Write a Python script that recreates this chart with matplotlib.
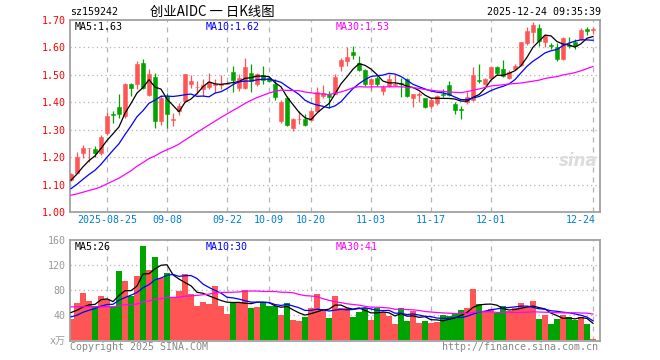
import numpy as np
import matplotlib
matplotlib.use("Agg")
import matplotlib.pyplot as plt
from matplotlib.transforms import blended_transform_factory

# ---------------- data ----------------
opens = [1.116,1.144,1.214,1.232,1.228,1.214,1.288,1.357,1.383,1.349,
         1.465,1.465,1.545,1.428,1.493,1.330,1.422,1.334,1.370,1.404,
         1.465,1.455,1.450,1.455,1.464,1.464,1.465,1.512,1.453,1.453,
         1.508,1.465,1.500,1.487,1.465,1.330,1.416,1.306,1.338,1.340,
         1.337,1.367,1.422,1.431,1.429,1.533,1.549,1.585,1.545,1.517,
         1.465,1.490,1.441,1.459,1.464,1.470,1.484,1.416,1.428,1.414,
         1.386,1.398,1.430,1.462,1.395,1.375,1.402,1.407,1.479,1.465,
         1.487,1.527,1.520,1.490,1.520,1.536,1.615,1.655,1.671,1.618,
         1.607,1.602,1.557,1.608,1.618,1.630,1.667,1.663]
highs = [1.142,1.220,1.245,1.234,1.241,1.281,1.364,1.367,1.429,1.471,
         1.471,1.551,1.557,1.520,1.508,1.428,1.434,1.361,1.398,1.502,
         1.498,1.478,1.484,1.508,1.484,1.500,1.478,1.533,1.502,1.563,
         1.541,1.508,1.533,1.496,1.484,1.410,1.422,1.343,1.367,1.357,
         1.373,1.455,1.463,1.441,1.502,1.563,1.600,1.604,1.569,1.520,
         1.484,1.496,1.463,1.502,1.502,1.490,1.490,1.432,1.438,1.416,
         1.416,1.428,1.447,1.478,1.400,1.388,1.438,1.527,1.541,1.487,
         1.533,1.533,1.553,1.517,1.541,1.618,1.673,1.692,1.686,1.649,
         1.615,1.615,1.637,1.637,1.630,1.671,1.673,1.673]
lows = [1.113,1.142,1.198,1.184,1.202,1.208,1.281,1.324,1.343,1.343,
        1.422,1.450,1.447,1.422,1.308,1.318,1.306,1.312,1.355,1.402,
        1.453,1.430,1.422,1.447,1.435,1.447,1.465,1.438,1.440,1.447,
        1.438,1.459,1.465,1.475,1.410,1.324,1.312,1.297,1.321,1.312,
        1.333,1.365,1.416,1.380,1.429,1.514,1.533,1.557,1.514,1.459,
        1.443,1.459,1.428,1.455,1.459,1.420,1.419,1.382,1.402,1.378,
        1.378,1.390,1.420,1.422,1.357,1.339,1.393,1.405,1.471,1.463,
        1.484,1.498,1.492,1.486,1.517,1.533,1.610,1.615,1.606,1.600,
        1.594,1.551,1.553,1.597,1.594,1.626,1.645,1.649]
closes = [1.140,1.202,1.232,1.233,1.216,1.275,1.349,1.353,1.359,1.465,
          1.453,1.539,1.453,1.502,1.330,1.416,1.357,1.338,1.386,1.502,
          1.477,1.456,1.463,1.474,1.466,1.467,1.472,1.481,1.490,1.527,
          1.478,1.502,1.481,1.478,1.419,1.402,1.318,1.340,1.340,1.318,
          1.367,1.438,1.434,1.419,1.493,1.553,1.566,1.573,1.517,1.465,
          1.484,1.465,1.455,1.484,1.467,1.465,1.422,1.432,1.429,1.382,
          1.410,1.422,1.428,1.428,1.371,1.373,1.420,1.498,1.477,1.484,
          1.527,1.508,1.496,1.512,1.533,1.618,1.661,1.680,1.622,1.643,
          1.605,1.557,1.634,1.605,1.606,1.664,1.659,1.665]
volumes = [33.6,58.7,75.2,62.4,55,71,65.6,53.3,110.4,94.4,
           71,102.4,150.4,112,133.3,99.7,106.7,69.3,78.4,105.6,
           73.6,55,61.3,57.6,87,55,41.6,58.7,58.7,80,
           51.7,53.3,58.7,55,55,40,59.7,32,30.4,37.3,
           51.7,73.6,48,35.7,70.4,51.7,51.7,37.3,45.3,50.7,
           32,51.7,44.3,38.9,25.6,51.2,30.4,47,27.2,30.4,
           27.2,28.8,40,38.9,41,48,51.7,81.6,57.6,47,
           49.6,42.7,54.4,46.4,50.7,59.2,53.3,62.4,33.6,40,
           25.6,33.6,40,37.3,32,37.3,25.6,1.5]
# sessions before the visible window (only used to warm up the moving averages)
pre_closes = [1.06,1.05,1.04,1.05,1.04,1.03,1.04,1.05,1.06,1.05,
              1.04,1.05,1.06,1.05,1.04,1.05,1.06,1.05,1.06,1.06,
              1.04,1.05,1.06,1.06,1.06,1.09,1.10,1.12,1.13]
pre_volumes = [55,70,62,58,75,60,52,66,48,60,72,58,64,55,68,50,62,70,58,57,
               32,28,30,27,33,40,50,45,51]

date_labels = ['2025-08-25','09-08','09-22','10-09','10-20','11-03','11-17','12-01','12-24']
date_index = [6,16,26,33,40,50,60,70,87]
price_ticks = [1.00,1.10,1.20,1.30,1.40,1.50,1.60,1.70]
vol_ticks = [0,40,80,120,160]
vol_tick_labels = ['x万','40','80','120','160']
price_ma_labels = ['MA5:1.63','MA10:1.62','MA30:1.53']
vol_ma_labels = ['MA5:26','MA10:30','MA30:41']
code = 'sz159242'
title = '创业AIDC 一 日K线图'
stamp = '2025-12-24 09:35:39'

# ---------------- helpers ----------------
def ma(pre, vals, n):
    full = np.array(list(pre) + list(vals), dtype=float)
    out = np.convolve(full, np.ones(n) / n, mode='valid')
    return out[-len(vals):]

o = np.array(opens); h = np.array(highs); l = np.array(lows); c = np.array(closes)
v = np.array(volumes)
x = np.arange(len(c))
up = c >= o
RED = '#ff5555'
GREEN = '#00a400'
cols = np.where(up, RED, GREEN)

W, H = 660, 360
fig = plt.figure(figsize=(6.6, 3.6), dpi=100)
fig.patch.set_facecolor('white')

def axrect(left, top, right, bottom):
    return [left / W, 1 - bottom / H, (right - left) / W, (bottom - top) / H]

mono = 'DejaVu Sans Mono'
fs = 7.2
GRID = '#b4b4b4'
SPINE = '#a0a0a0'

axp = fig.add_axes(axrect(70, 20, 600, 212))
axv = fig.add_axes(axrect(70, 240, 600, 341))
xl = (-1 / 6, 529 / 6)

for ax in (axp, axv):
    ax.set_xlim(*xl)
    for s in ax.spines.values():
        s.set_color(SPINE)
        s.set_linewidth(1.3)
    ax.set_xticks([])
    ax.tick_params(axis='y', length=0, pad=3)
    for xi in date_index:
        ax.axvline(xi, color=GRID, lw=0.9, ls=(0, (4, 4)), zorder=0)

# price panel
axp.set_ylim(1.0, 1.70)
axp.set_yticks(price_ticks)
axp.set_yticklabels([f'{t:.2f}' for t in price_ticks], color='red', family=mono, fontsize=fs)
for t in price_ticks[1:-1]:
    axp.axhline(t, color=GRID, lw=0.9, ls=(0, (1, 2.5)), zorder=0)

axp.vlines(x, l, h, colors=cols, lw=0.9, zorder=2)
body_h = np.maximum(np.abs(c - o), 0.0025)
body_b = np.minimum(o, c)
axp.bar(x, body_h, bottom=body_b, width=0.8, color=cols, edgecolor=cols, lw=0.4, zorder=3)

axp.plot(x, ma(pre_closes, closes, 5), color='black', lw=0.9, zorder=4)
axp.plot(x, ma(pre_closes, closes, 10), color='#0000ff', lw=0.9, zorder=4)
axp.plot(x, ma(pre_closes, closes, 30), color='#ff00ff', lw=0.9, zorder=4)

axp.text(578, 199, 'sina', transform=None, fontsize=12, style='italic', weight='bold',
         color='#dcdcdc', ha='center', va='center', family='DejaVu Sans', zorder=1)

# volume panel
axv.set_ylim(-1.6, 160)
axv.set_yticks(vol_ticks)
axv.set_yticklabels(vol_tick_labels, color='#999999', family=[mono, 'Noto Sans CJK SC'], fontsize=fs)
for t in vol_ticks[1:-1]:
    axv.axhline(t, color=GRID, lw=0.9, ls=(0, (1, 2.5)), zorder=0)
axv.bar(x, v, width=0.84, color=cols, zorder=2)
axv.plot(x, ma(pre_volumes, volumes, 5), color='black', lw=0.9, zorder=4)
axv.plot(x, ma(pre_volumes, volumes, 10), color='#0000ff', lw=0.9, zorder=4)
axv.plot(x, ma(pre_volumes, volumes, 30), color='#ff00ff', lw=0.9, zorder=4)

# texts (pixel coordinates from top-left)
def ftext(px, py, s, **kw):
    fig.text(px / W, 1 - py / H, s, **kw)

ma_cols = ['black', '#0000ff', '#ff00ff']
ma_x = [75, 206, 336]
for lab, col, px in zip(price_ma_labels, ma_cols, ma_x):
    ftext(px, 27, lab, color=col, family=mono, fontsize=fs, va='center', ha='left')
for lab, col, px in zip(vol_ma_labels, ma_cols, ma_x):
    ftext(px, 247, lab, color=col, family=mono, fontsize=fs, va='center', ha='left')

ftext(70, 12, code, color='black', family=mono, fontsize=fs, va='center', ha='left')
ftext(150, 12, title, color='black', family=['Noto Sans CJK SC', 'DejaVu Sans'], fontsize=9.6,
      va='center', ha='left')
ftext(601, 12, stamp, color='black', family=mono, fontsize=fs, va='center', ha='right')

trans = blended_transform_factory(axp.transData, fig.transFigure)
for i, (lab, xi) in enumerate(zip(date_labels, date_index)):
    ha = 'right' if i == len(date_labels) - 1 else 'center'
    xx = xi + 0.4 if ha == 'right' else xi
    axp.text(xx, 1 - 220 / H, lab, transform=trans, color='#0080cc', family=mono,
             fontsize=fs, ha=ha, va='center')

ftext(70, 347, 'Copyright 2025 SINA.COM', color='#888888', family=mono, fontsize=fs, va='center', ha='left')
ftext(598, 347, 'http://finance.sina.com.cn', color='#888888', family=mono, fontsize=fs, va='center', ha='right')

fig.savefig('out.png', dpi=100)
